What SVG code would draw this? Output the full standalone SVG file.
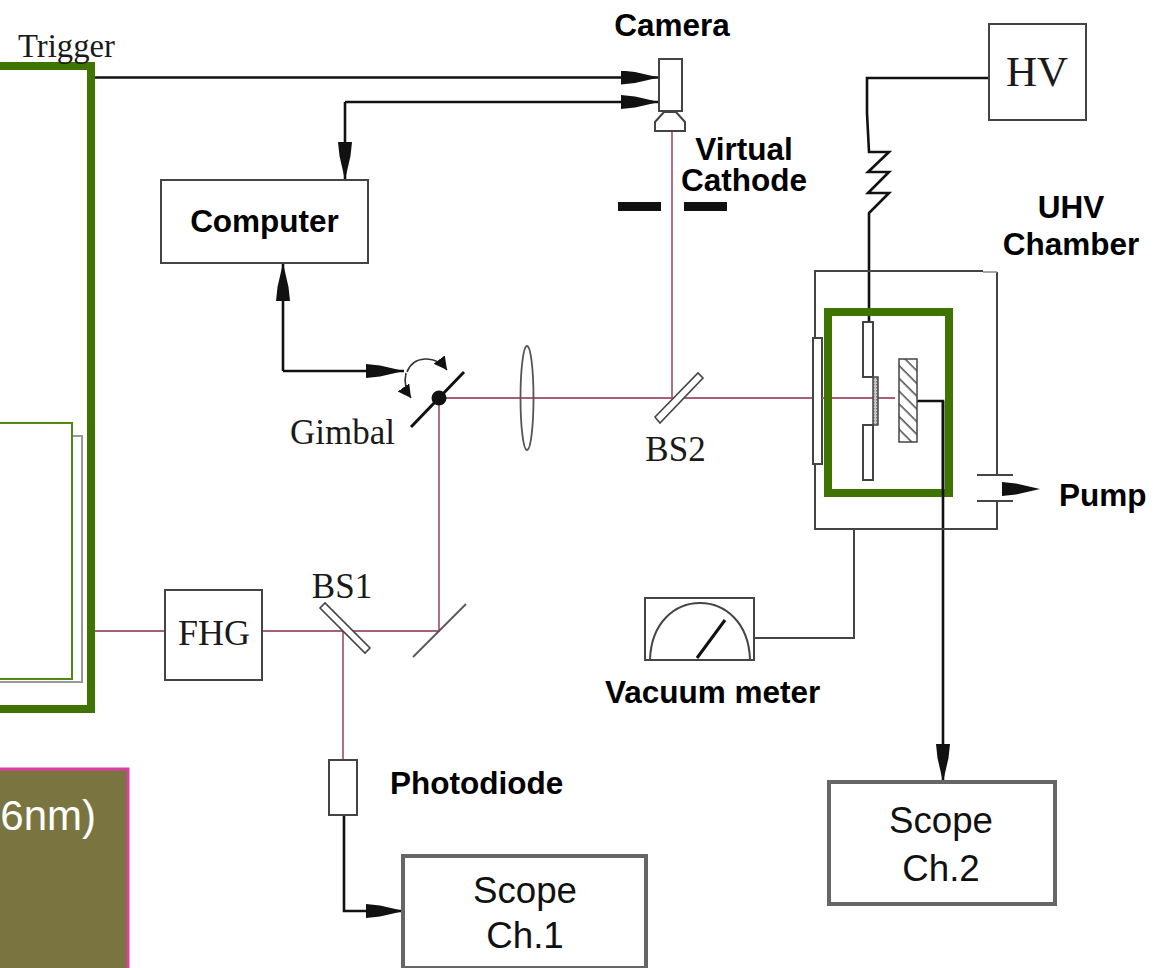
<svg xmlns="http://www.w3.org/2000/svg" width="1167" height="968" viewBox="0 0 1167 968">
<style>
.box{fill:#fff;stroke:#444;stroke-width:2}
.thin{fill:none;stroke:#444;stroke-width:2}
.wire{fill:none;stroke:#111;stroke-width:2.6}
.beam{fill:none;stroke:#a8607a;stroke-width:1.8}
.green{fill:none;stroke:#3f7400;stroke-width:8}
.scope{fill:#fff;stroke:#666;stroke-width:4}
.serif{font-family:"Liberation Serif","Times New Roman",serif;fill:#1a1a1a}
.bold{font-family:"Liberation Sans",Arial,sans-serif;font-weight:700;font-size:31.5px;fill:#000}
.sans{font-family:"Liberation Sans",Arial,sans-serif;font-size:36.7px;fill:#111;text-anchor:middle}
.mid{text-anchor:middle}
</style>
<defs>
<marker id="head" markerUnits="userSpaceOnUse" markerWidth="40" markerHeight="16" refX="38" refY="7" orient="auto"><path d="M0 0L14 1.500L38 7L14 12.500L0 14Z" fill="#111"/></marker>
<marker id="small" markerUnits="userSpaceOnUse" markerWidth="16" markerHeight="16" refX="13" refY="7" orient="auto"><path d="M0 0L13 7L0 14Z" fill="#111"/></marker>
<pattern id="hatch" patternUnits="userSpaceOnUse" width="9" height="9" patternTransform="rotate(45)"><rect width="9" height="9" fill="#fff"/><rect width="9" height="1.6" fill="#555"/></pattern>
<pattern id="mesh" patternUnits="userSpaceOnUse" width="3" height="3"><rect width="3" height="3" fill="#ccc"/><rect width="1.5" height="1.5" fill="#777"/></pattern>
</defs>
<rect width="1167" height="968" fill="#fff"/>

<g id="connectors">
<path class="beam" d="M95 631H165M262 631H439V398M439 398H895M672 398V130M343 631V760"/>
<path class="wire" d="M95 77.500H659" marker-end="url(#head)"/>
<path class="wire" d="M345 102H659" marker-end="url(#head)"/>
<path class="wire" d="M345 102V180" marker-end="url(#head)"/>
<path class="wire" d="M283 371V263" marker-end="url(#head)"/>
<path class="wire" d="M283 371H404" marker-end="url(#head)"/>
<path class="wire" d="M989 78H867V113L869 152H889L868 172H889L868 193H889L869 213V322"/>
<path class="wire" d="M344 815V911H404" marker-end="url(#head)"/>
<path class="wire" d="M917 401H943V782" marker-end="url(#head)"/>
<path class="thin" d="M754 638H854V529"/>
<path d="M1002 482L1016 483.500L1040 489L1016 494.500L1002 496Z" fill="#111"/>
<path d="M407 372C413 356 435 354 447 370" fill="none" stroke="#333" stroke-width="1.600" marker-end="url(#small)"/>
<path d="M406 373C404 382 406 391 411 398" fill="none" stroke="#333" stroke-width="1.600" marker-end="url(#small)"/>
</g>

<g id="laser">
<rect x="-20" y="436" width="102" height="246" fill="#fff" stroke="#999" stroke-width="2"/>
<rect x="-20" y="423" width="92" height="256" fill="#fff" stroke="#4f8a10" stroke-width="2"/>
<rect x="-20" y="66" width="111" height="643" class="green"/>
</g>

<g id="wavelength">
<rect x="-10" y="769" width="138" height="210" fill="#7a7540" stroke="#e03ca5" stroke-width="3"/>
<text x="96" y="830" font-family="'Liberation Sans',Arial,sans-serif" font-size="42" fill="#fff" text-anchor="end">6nm)</text>
</g>

<g id="trigger"><text class="serif" x="18" y="57" font-size="32.700">Trigger</text></g>

<g id="camera">
<rect class="box" x="659" y="59" width="23" height="52"/>
<path class="box" d="M664 112L655 122V131H685V122L676 112Z"/>
<text class="bold mid" x="672" y="36">Camera</text>
</g>

<g id="virtual-cathode">
<rect x="618" y="202" width="43" height="9" fill="#111"/>
<rect x="684" y="202" width="43" height="9" fill="#111"/>
<text class="bold mid"><tspan x="744" y="160">Virtual</tspan><tspan x="744" y="191">Cathode</tspan></text>
</g>

<g id="computer">
<rect class="box" x="161" y="180" width="207" height="83"/>
<text class="bold mid" x="264.500" y="232">Computer</text>
</g>

<g id="gimbal">
<path d="M411 427L464 372" stroke="#111" stroke-width="3" fill="none"/>
<circle cx="439" cy="398" r="7.500" fill="#111"/>
<text class="serif" x="290" y="444" font-size="35">Gimbal</text>
</g>

<g id="lens"><ellipse cx="527" cy="398" rx="6.500" ry="52" fill="none" stroke="#555" stroke-width="1.800"/></g>

<g id="bs2">
<path d="M655 417L660 423L703 378L698 373Z" fill="#fff" stroke="#444" stroke-width="1.600"/>
<text class="serif mid" x="675.500" y="461" font-size="35">BS2</text>
</g>

<g id="fhg">
<rect class="box" x="165" y="590" width="97" height="90"/>
<text class="serif mid" x="214" y="645" font-size="36">FHG</text>
</g>

<g id="bs1">
<path d="M320 608L325 603L370 648L365 653Z" fill="#fff" stroke="#444" stroke-width="1.600"/>
<text class="serif mid" x="342" y="598" font-size="35">BS1</text>
</g>

<g id="mirror"><path d="M413 657L466 604" stroke="#555" stroke-width="1.800" fill="none"/></g>

<g id="photodiode">
<rect class="box" x="329" y="760" width="28" height="55"/>
<text class="bold" x="390" y="794">Photodiode</text>
</g>

<g id="scope1">
<rect class="scope" x="403" y="856" width="243" height="112"/>
<text class="sans"><tspan x="525" y="903">Scope</tspan><tspan x="525" y="948">Ch.1</tspan></text>
</g>

<g id="scope2">
<rect class="scope" x="829" y="782" width="226" height="122"/>
<text class="sans"><tspan x="941" y="833">Scope</tspan><tspan x="941" y="881">Ch.2</tspan></text>
</g>

<g id="hv">
<rect class="box" x="989" y="24" width="97" height="96"/>
<text class="serif mid" x="1037" y="86" font-size="43">HV</text>
</g>

<g id="chamber">
<path class="thin" d="M983 271H815V529H997V501M997 475V272"/>
<path d="M983 272H997" stroke="#888" stroke-width="1.500"/>
<path class="thin" d="M977 475H1013M977 501H1013"/>
<rect class="box" x="813" y="338" width="9" height="126"/>
<path d="M822 398H895" class="beam"/>
<rect x="873" y="377" width="5" height="48" fill="url(#mesh)" stroke="#444" stroke-width="1.500"/>
<rect class="box" x="863" y="322" width="10" height="55"/>
<rect class="box" x="863" y="425" width="10" height="55"/>
<rect x="899" y="359" width="18" height="83" fill="url(#hatch)" stroke="#444" stroke-width="1.500"/>
<rect class="green" x="828" y="312" width="121" height="181"/>
<path class="wire" d="M943 401V497"/>
<text class="bold mid"><tspan x="1071" y="218">UHV</tspan><tspan x="1071" y="255">Chamber</tspan></text>
<text class="bold" x="1059" y="506">Pump</text>
</g>

<g id="vacuum-meter">
<rect class="box" x="645" y="598" width="109" height="62"/>
<path class="thin" d="M650 660C652 584 748 584 750 660"/>
<path d="M697 658L725 620" stroke="#111" stroke-width="3" fill="none"/>
<text class="bold" x="605" y="703">Vacuum meter</text>
</g>
</svg>
